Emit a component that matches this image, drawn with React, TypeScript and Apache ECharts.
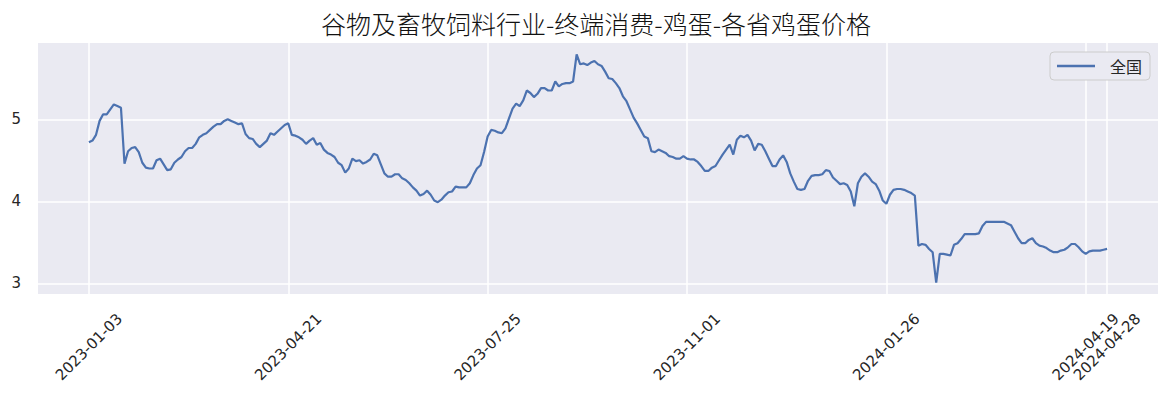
import React, { useEffect, useRef } from "react";
import * as echarts from "echarts";

const titleText = "谷物及畜牧饲料行业-终端消费-鸡蛋-各省鸡蛋价格";
const seriesName = "全国";

// x tick positions (data index) and their date labels
const xTickIndex = [0, 56, 112, 168, 224, 280, 286];
const xTickLabels = [
  "2023-01-03",
  "2023-04-21",
  "2023-07-25",
  "2023-11-01",
  "2024-01-26",
  "2024-04-19",
  "2024-04-28",
];
const yTicks = [3, 4, 5];

// national egg price, one value per observation (2023-01-03 .. 2024-04-28)
const prices = [
  4.72, 4.74, 4.81, 4.98, 5.06, 5.06, 5.12, 5.18, 5.16, 5.14,
  4.46, 4.61, 4.65, 4.66, 4.6, 4.47, 4.41, 4.4, 4.4, 4.5,
  4.52, 4.45, 4.38, 4.39, 4.47, 4.51, 4.54, 4.61, 4.65, 4.65,
  4.7, 4.78, 4.81, 4.83, 4.87, 4.91, 4.94, 4.94, 4.98, 5.0,
  4.98, 4.96, 4.94, 4.95, 4.82, 4.77, 4.76, 4.7, 4.66, 4.7,
  4.74, 4.83, 4.81, 4.85, 4.89, 4.93, 4.95, 4.81, 4.8, 4.78,
  4.75, 4.7, 4.74, 4.77, 4.69, 4.71, 4.63, 4.59, 4.57, 4.54,
  4.47, 4.44, 4.35, 4.4, 4.52, 4.49, 4.5, 4.46, 4.48, 4.51,
  4.58, 4.56, 4.45, 4.34, 4.3, 4.3, 4.33, 4.33, 4.28, 4.26,
  4.22, 4.17, 4.13, 4.07, 4.09, 4.13, 4.08, 4.01, 3.99, 4.02,
  4.07, 4.11, 4.12, 4.18, 4.17, 4.17, 4.17, 4.22, 4.32, 4.4,
  4.44, 4.6, 4.79, 4.87, 4.86, 4.84, 4.83, 4.89, 5.01, 5.13,
  5.19, 5.16, 5.23, 5.35, 5.32, 5.27, 5.31, 5.38, 5.38, 5.35,
  5.35, 5.46, 5.4, 5.43, 5.44, 5.44, 5.46, 5.79, 5.67, 5.68,
  5.66, 5.69, 5.71, 5.67, 5.65, 5.58, 5.5, 5.49, 5.44, 5.38,
  5.28, 5.22, 5.12, 5.02, 4.95, 4.87, 4.79, 4.77, 4.61, 4.6,
  4.63, 4.61, 4.59, 4.55, 4.54, 4.52, 4.52, 4.55, 4.52, 4.51,
  4.51, 4.48, 4.43, 4.37, 4.37, 4.41, 4.43, 4.5, 4.57, 4.63,
  4.69, 4.57, 4.75, 4.8, 4.78, 4.81, 4.74, 4.62, 4.7, 4.69,
  4.61, 4.52, 4.43, 4.43, 4.51, 4.56, 4.48, 4.34, 4.24, 4.15,
  4.14, 4.15, 4.25, 4.31, 4.32, 4.32, 4.33, 4.38, 4.37, 4.29,
  4.25, 4.21, 4.22, 4.2, 4.12, 3.94, 4.22, 4.3, 4.34, 4.3,
  4.24, 4.21, 4.13, 4.01, 3.97, 4.08, 4.14, 4.15, 4.15, 4.14,
  4.12, 4.1, 4.07, 3.46, 3.48, 3.47, 3.42, 3.38, 3.01, 3.36,
  3.36, 3.35, 3.34, 3.47, 3.49, 3.54, 3.6, 3.6, 3.6, 3.6,
  3.61, 3.7, 3.75, 3.75, 3.75, 3.75, 3.75, 3.75, 3.73, 3.71,
  3.63, 3.55, 3.49, 3.49, 3.53, 3.55, 3.49, 3.46, 3.45, 3.43,
  3.4, 3.38, 3.38, 3.4, 3.41, 3.44, 3.48, 3.48, 3.44, 3.39,
  3.36, 3.39, 3.4, 3.4, 3.4, 3.41, 3.42,
];

export default function App() {
  const ref = useRef<HTMLDivElement>(null);

  useEffect(() => {
    document.body.style.margin = "0";
    if (!ref.current) return;
    const chart = echarts.init(ref.current, null, { renderer: "svg" });

    const n = prices.length - 1;
    const xMin = -0.05 * n;
    const xMax = n * 1.05;
    let lo = Infinity;
    let hi = -Infinity;
    prices.forEach((v) => {
      lo = Math.min(lo, v);
      hi = Math.max(hi, v);
    });
    const pad = (hi - lo) * 0.05;

    const textColor = "#262626";
    const latin = "'DejaVu Sans', 'Noto Sans CJK SC', sans-serif";

    chart.setOption({
      animation: false,
      backgroundColor: "#ffffff",
      graphic: [
        {
          type: "text",
          x: 596,
          y: 23,
          style: {
            text: titleText,
            fontSize: 25,
            fontWeight: 300,
            fontFamily: "'Noto Sans CJK SC', sans-serif",
            fill: "#111111",
            align: "center",
            verticalAlign: "middle",
          },
        },
      ],
      grid: {
        left: 38,
        right: 14,
        top: 43,
        bottom: 106,
        show: true,
        backgroundColor: "#eaeaf2",
        borderWidth: 0,
        containLabel: false,
      },
      legend: {
        right: 22,
        top: 52,
        orient: "vertical",
        icon: "rect",
        itemWidth: 38,
        itemHeight: 2.5,
        padding: [6, 8, 6, 7],
        backgroundColor: "#eaeaf2",
        borderColor: "#cccccc",
        borderWidth: 1,
        borderRadius: 4,
        textStyle: {
          fontSize: 16,
          color: textColor,
          fontFamily: "'Noto Sans CJK SC', sans-serif",
          padding: [0, 0, 0, 10],
        },
        data: [seriesName],
      },
      xAxis: {
        type: "value",
        min: xMin,
        max: xMax,
        axisLine: { show: false },
        axisTick: { show: false, customValues: xTickIndex },
        axisLabel: {
          customValues: xTickIndex,
          rotate: 45,
          align: "center",
          verticalAlign: "middle",
          margin: 53,
          fontSize: 15,
          fontFamily: latin,
          color: textColor,
          formatter: (val: number) => {
            const k = xTickIndex.indexOf(Math.round(val));
            return k >= 0 ? xTickLabels[k] : "";
          },
        },
        splitLine: { show: true, lineStyle: { color: "#ffffff", width: 1.5 } },
      },
      yAxis: {
        type: "value",
        min: lo - pad,
        max: hi + pad,
        axisLine: { show: false },
        axisTick: { show: false, customValues: yTicks },
        axisLabel: {
          customValues: yTicks,
          margin: 17,
          fontSize: 15,
          fontFamily: latin,
          color: textColor,
          formatter: (v: number) => String(Math.round(v)),
        },
        splitLine: { show: true, lineStyle: { color: "#ffffff", width: 1.5 } },
      },
      series: [
        {
          name: seriesName,
          type: "line",
          data: prices.map((v, i) => [i, v]),
          symbol: "none",
          showSymbol: false,
          lineStyle: { color: "#4c72b0", width: 2.2 },
          itemStyle: { color: "#4c72b0" },
        },
      ],
    });

    return () => chart.dispose();
  }, []);

  return <div ref={ref} style={{ width: 1172, height: 400 }} />;
}
